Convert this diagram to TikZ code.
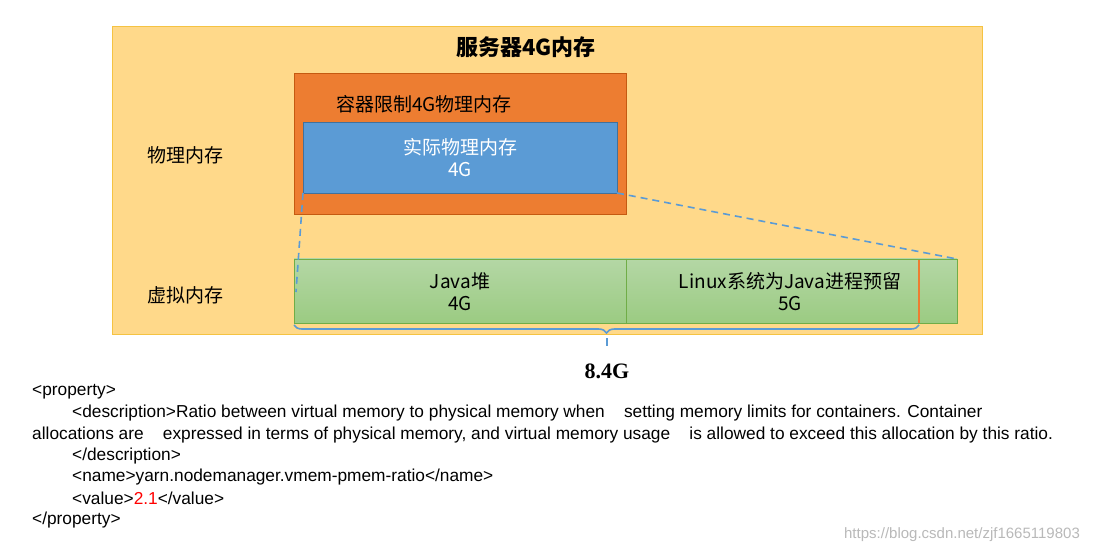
\documentclass[tikz,border=0pt]{standalone}
\usepackage{fontspec}
\setmainfont{Liberation Sans}
\newfontfamily\cjk{Noto Sans CJK SC}
\newfontfamily\serifb{Liberation Serif}
\usetikzlibrary{decorations.pathreplacing}
\definecolor{yel}{HTML}{FFD98A}
\definecolor{yeld}{HTML}{F5C342}
\definecolor{org}{HTML}{ED7D31}
\definecolor{orgd}{HTML}{C55A11}
\definecolor{blu}{HTML}{5B9BD5}
\definecolor{blud}{HTML}{41719C}
\definecolor{grnl}{HTML}{B4D7A5}
\definecolor{grnd}{HTML}{9BCB82}
\definecolor{grnb}{HTML}{70AD47}
\tikzset{lbl/.style={font=\fontsize{19}{21}\selectfont\cjk, inner sep=0pt},
 code/.style={font=\fontsize{17.3}{20}\selectfont, anchor=west, inner sep=0pt},
 dsh/.style={blu,line width=1.6pt,dash pattern=on 7pt off 5pt}}
\begin{document}
\begin{tikzpicture}[x=1pt,y=-1pt]
\useasboundingbox (0,0) rectangle (1097,553);
\fill[white] (0,0) rectangle (1097,553);
\filldraw[fill=yel,draw=yeld] (112,26) rectangle (982,334);
\node[font=\fontsize{22}{24}\selectfont\bfseries\cjk] (title) at (526,47) {服务器4G内存};
\filldraw[fill=org,draw=orgd] (294,73) rectangle (626,214);
\node[lbl,anchor=west] (cont) at (336,104) {容器限制4G物理内存};
\filldraw[fill=blu,draw=blud] (303,122) rectangle (617,193);
\node[lbl,text=white,align=center] (real) at (460,158) {实际物理内存\\[1pt]4G};
\node[lbl] (phys) at (185,155) {物理内存};
\node[lbl] (virt) at (185,295) {虚拟内存};
\shade[top color=grnl,bottom color=grnd] (294,259) rectangle (957,323);
\draw[grnb] (294,259) rectangle (957,323) (626,259) -- (626,323);
\draw[org,line width=1.5pt] (919,260) -- (919,323);
\node[lbl,align=center] (heap) at (460,292) {Java堆\\[1pt]4G};
\node[lbl,align=center] (linux) at (790,292) {Linux系统为Java进程预留\\[1pt]5G};
\coordinate (bl) at (303,193); \coordinate (br) at (617,193);
\coordinate (gl) at (296,292); \coordinate (gr) at (957,259);
\draw[dsh] (bl) -- (gl);
\draw[dsh] (br) -- (gr);
\draw[blu,line width=1.6pt,decorate,decoration={brace,mirror,amplitude=8pt}] (294,325) -- (919,325);
\draw[blu,line width=1.6pt] (607,338) -- (607,346);
\node[font=\fontsize{22}{24}\selectfont\serifb\bfseries,inner sep=0pt] (tot) at (607,371) {8.4G};
\node[code] at (32,392) {<property>};
\node[code] at (72,413) {<description>Ratio between virtual memory to physical memory when \ \ \ setting memory limits for containers. Container};
\node[code] at (32,435) {allocations are \ \ \ expressed in terms of physical memory, and virtual memory usage \ \ \ is allowed to exceed this allocation by this ratio.};
\node[code] at (72,456) {</description>};
\node[code] at (72,477) {<name>yarn.nodemanager.vmem-pmem-ratio</name>};
\node[code] at (72,498) {<value>\textcolor{red}{2.1}</value>};
\node[code] at (32,520) {</property>};
\node[font=\fontsize{15}{17}\selectfont,text=gray!55,inner sep=0pt] at (962,535) {https://blog.csdn.net/zjf1665119803};
\end{tikzpicture}
\end{document}
